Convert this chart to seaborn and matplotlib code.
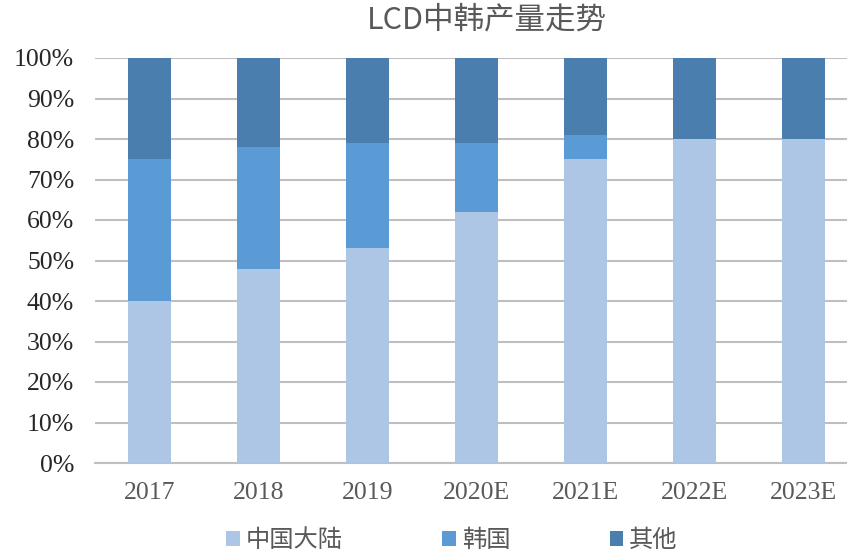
import numpy as np
import pandas as pd
import matplotlib
matplotlib.use("Agg")
import matplotlib.pyplot as plt
import seaborn as sns
from matplotlib.patches import Patch

# ── data (percent share) ──
years = ["2017", "2018", "2019", "2020E", "2021E", "2022E", "2023E"]
china = [40, 48, 53, 62, 75, 80, 80]
korea = [35, 30, 26, 17, 6, 0, 0]
other = [25, 22, 21, 21, 19, 20, 20]

series = ["中国大陆", "韩国", "其他"]
colors = ["#AEC6E6", "#5B9BD5", "#4A7EAE"]

sns.set_style("white")
plt.rcParams["font.family"] = ["Noto Sans CJK SC", "DejaVu Sans"]

df = pd.DataFrame({"year": years, "china": china, "korea": korea, "other": other})
df["lvl1"] = df["china"]
df["lvl2"] = df["china"] + df["korea"]
df["lvl3"] = df["lvl2"] + df["other"]

fig = plt.figure(figsize=(8.47, 5.54), dpi=100)
ax = fig.add_axes([95 / 847, (554 - 463) / 554, (847 - 95) / 847, 405 / 554])

# stack by overdrawing cumulative totals, tallest first
for col, c in zip(["lvl3", "lvl2", "lvl1"], colors[::-1]):
    sns.barplot(data=df, x="year", y=col, color=c, width=0.4,
                saturation=1, linewidth=0, ax=ax, zorder=3)

ax.set_ylim(0, 100)
ax.set_xlim(-0.5, 6.4)
ax.set_yticks(np.arange(0, 101, 10))
ax.set_yticklabels([f"{v}%" for v in range(0, 101, 10)],
                   fontfamily="Liberation Serif", fontsize=18.5, color="#262626")
ax.set_xticks(range(len(years)))
ax.set_xticklabels(years, fontfamily="Liberation Serif", fontsize=18.5, color="#595959")
ax.tick_params(axis="y", length=0, pad=15)
ax.tick_params(axis="x", length=0, pad=14)
ax.yaxis.grid(True, color="#BFBFBF", lw=1.5, zorder=0)
ax.set_axisbelow(True)
ax.set_xlabel("")
ax.set_ylabel("")
for s in ["top", "right", "left"]:
    ax.spines[s].set_visible(False)
ax.spines["bottom"].set_color("#BFBFBF")
ax.spines["bottom"].set_linewidth(1.5)

fig.text(487 / 847, 1 - 20 / 554, "LCD中韩产量走势", fontsize=22, color="#595959",
         ha="center", va="center")

handles = [Patch(facecolor=c, edgecolor="none") for c in colors]
fig.legend(handles, series, loc="center", bbox_to_anchor=(452 / 847, 1 - 540 / 554),
           ncol=3, frameon=False, fontsize=17.5, handlelength=0.55, handleheight=0.55,
           handletextpad=0.25, columnspacing=4.1, labelcolor="#595959")

fig.savefig("out.png", dpi=100)
